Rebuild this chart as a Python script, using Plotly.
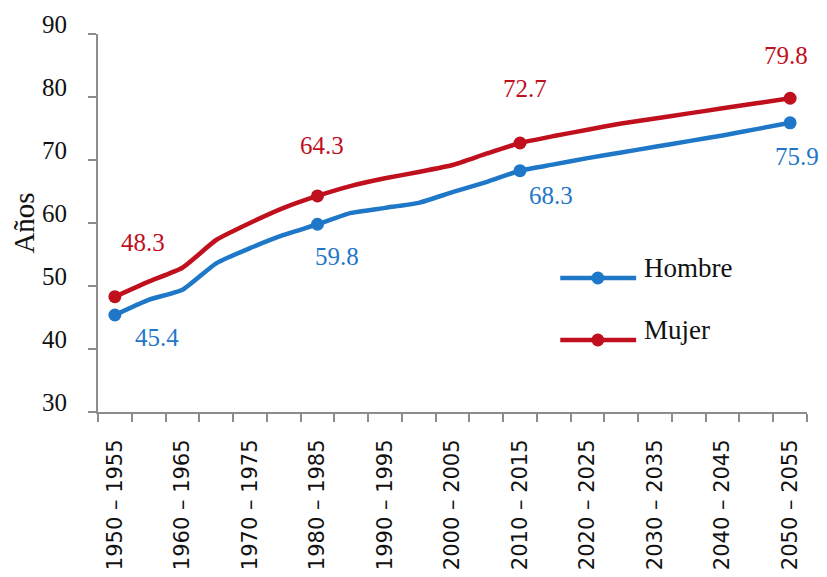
import plotly.graph_objects as go

periods = [
    "1950 – 1955", "1955 – 1960", "1960 – 1965", "1965 – 1970", "1970 – 1975",
    "1975 – 1980", "1980 – 1985", "1985 – 1990", "1990 – 1995", "1995 – 2000",
    "2000 – 2005", "2005 – 2010", "2010 – 2015", "2015 – 2020", "2020 – 2025",
    "2025 – 2030", "2030 – 2035", "2035 – 2040", "2040 – 2045", "2045 – 2050",
    "2050 – 2055",
]
hombre = [45.4, 47.8, 49.4, 53.6, 56.0, 58.1, 59.8, 61.6, 62.4, 63.2, 64.9,
          66.5, 68.3, 69.3, 70.3, 71.2, 72.1, 73.0, 73.9, 74.9, 75.9]
mujer = [48.3, 50.7, 52.9, 57.3, 60.0, 62.4, 64.3, 65.9, 67.1, 68.1, 69.2,
         71.0, 72.7, 73.8, 74.8, 75.8, 76.6, 77.4, 78.2, 79.0, 79.8]
marked = [0, 6, 12, 20]  # periods with a marker and a value label

BLUE = "#1F77C8"
RED = "#C0101E"
AXIS = "#8C8C8C"
SERIF = "Liberation Serif"

x = list(range(len(periods)))

fig = go.Figure()
for name, vals, color in [("Hombre", hombre, BLUE), ("Mujer", mujer, RED)]:
    sizes = [13 if i in marked else 0 for i in x]
    fig.add_trace(go.Scatter(
        x=x, y=vals, name=name, mode="lines+markers",
        line=dict(color=color, width=4.5, shape="spline", smoothing=0.5),
        marker=dict(color=color, size=sizes, opacity=1, line=dict(width=0)),
        showlegend=False, cliponaxis=False,
    ))

# value labels: (offset x, offset y) in pixels from the point
offsets_m = [(28, 54), (5, 50), (5, 54), (-4, 43)]
offsets_h = [(42, -23), (20, -32), (31, -25), (7, -34)]
for k, i in enumerate(marked):
    fig.add_annotation(x=i, y=mujer[i], text=f"{mujer[i]:.1f}", showarrow=False,
                       xshift=offsets_m[k][0], yshift=offsets_m[k][1],
                       font=dict(family=SERIF, size=25, color=RED))
    fig.add_annotation(x=i, y=hombre[i], text=f"{hombre[i]:.1f}", showarrow=False,
                       xshift=offsets_h[k][0], yshift=offsets_h[k][1],
                       font=dict(family=SERIF, size=25, color=BLUE))

# hand-made legend (long line with a dot in the middle)
for name, color, ly in [("Hombre", BLUE, 0.3545), ("Mujer", RED, 0.1905)]:
    fig.add_shape(type="line", xref="paper", yref="paper",
                  x0=0.652, x1=0.759, y0=ly, y1=ly,
                  line=dict(color=color, width=4.5))
    fig.add_shape(type="circle", xref="paper", yref="paper",
                  xsizemode="pixel", ysizemode="pixel",
                  xanchor=0.705, yanchor=ly, x0=-6.5, x1=6.5, y0=-6.5, y1=6.5,
                  fillcolor=color, line=dict(color=color, width=0))
    fig.add_annotation(xref="paper", yref="paper", x=0.767, y=ly + 0.027,
                       xanchor="left", yanchor="middle", showarrow=False,
                       text=name, font=dict(family=SERIF, size=27, color="#111111"))

# page body has an 8px margin, so the figure is 16px smaller than the window
fig.update_layout(
    width=811, height=561,
    margin=dict(l=90, r=12, t=26, b=157),
    paper_bgcolor="white", plot_bgcolor="white",
    xaxis=dict(
        range=[-0.5, 20.5], showgrid=False, zeroline=False, automargin=False,
        showline=True, linecolor=AXIS, linewidth=2,
        tickmode="array", tickvals=x[::2], ticktext=periods[::2],
        ticks="", tickangle=-90, ticklabelstandoff=17,
        tickfont=dict(family="DejaVu Sans", size=21, color="#111111"),
        minor=dict(tickmode="array", tickvals=[i - 0.5 for i in range(len(periods) + 1)],
                   ticks="outside", ticklen=8, tickwidth=2, tickcolor=AXIS, showgrid=False),
    ),
    yaxis=dict(
        range=[30, 90], dtick=10, showgrid=False, zeroline=False, automargin=False,
        showline=True, linecolor=AXIS, linewidth=2,
        ticks="outside", ticklen=8, tickwidth=2, tickcolor=AXIS,
        ticklabelshift=-10, ticklabelstandoff=16,
        tickfont=dict(family=SERIF, size=25, color="#111111"),
        title=dict(text="Años", standoff=2,
                   font=dict(family=SERIF, size=29, color="#111111")),
    ),
)

fig.write_html("out.html")
